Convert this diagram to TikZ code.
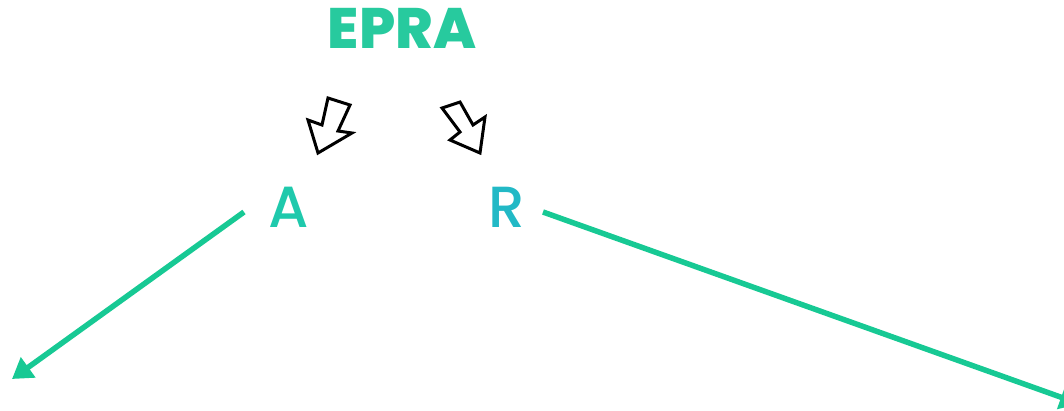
\documentclass[tikz,border=0pt]{standalone}
\usepackage{fontspec}
\setmainfont{Poppins}
\newfontfamily\popmed{Poppins Medium}
\newfontfamily\popxb{Poppins ExtraBold}
\usetikzlibrary{arrows.meta}
\definecolor{eprac}{HTML}{27CA9E}
\definecolor{acol}{HTML}{1FC9AC}
\definecolor{rcol}{HTML}{22B9C6}
\definecolor{linec}{HTML}{17C994}
\tikzset{
  lbl/.style={inner sep=0pt, anchor=base, font=\fontsize{58}{58}\selectfont\popmed},
  hollow/.style={draw=black, line width=3pt, line join=miter, fill=white},
  gline/.style={draw=linec, line width=5.5pt, -{Triangle[length=20pt,width=24pt]}}
}
\begin{document}
\begin{tikzpicture}[x=1pt,y=-1pt]
\useasboundingbox (0,0) rectangle (1064,410);
\clip (0,0) rectangle (1064,410);
\node[lbl, text=eprac, font=\fontsize{57}{57}\selectfont\popxb] (epra) at (402,48) {EPRA};
\node[lbl, text=acol] (a) at (289,227) {A};
\node[lbl, text=rcol] (r) at (507,227) {R};
% hollow arrows
\draw[hollow] (328,98) -- (350,105) -- (338,131) -- (352,133) -- (318,153) -- (308,120) -- (322,125) -- cycle;
\draw[hollow] (442,108) -- (460,102) -- (473,125) -- (485,117) -- (480,153) -- (450,140) -- (460,132) -- cycle;
% green connectors
\coordinate (as) at (244,212);
\coordinate (ae) at (12,379);
\coordinate (rs) at (543,212);
\coordinate (re) at (1080,404);
\draw[gline] (as) -- (ae);
\draw[gline] (rs) -- (re);
\end{tikzpicture}
\end{document}
